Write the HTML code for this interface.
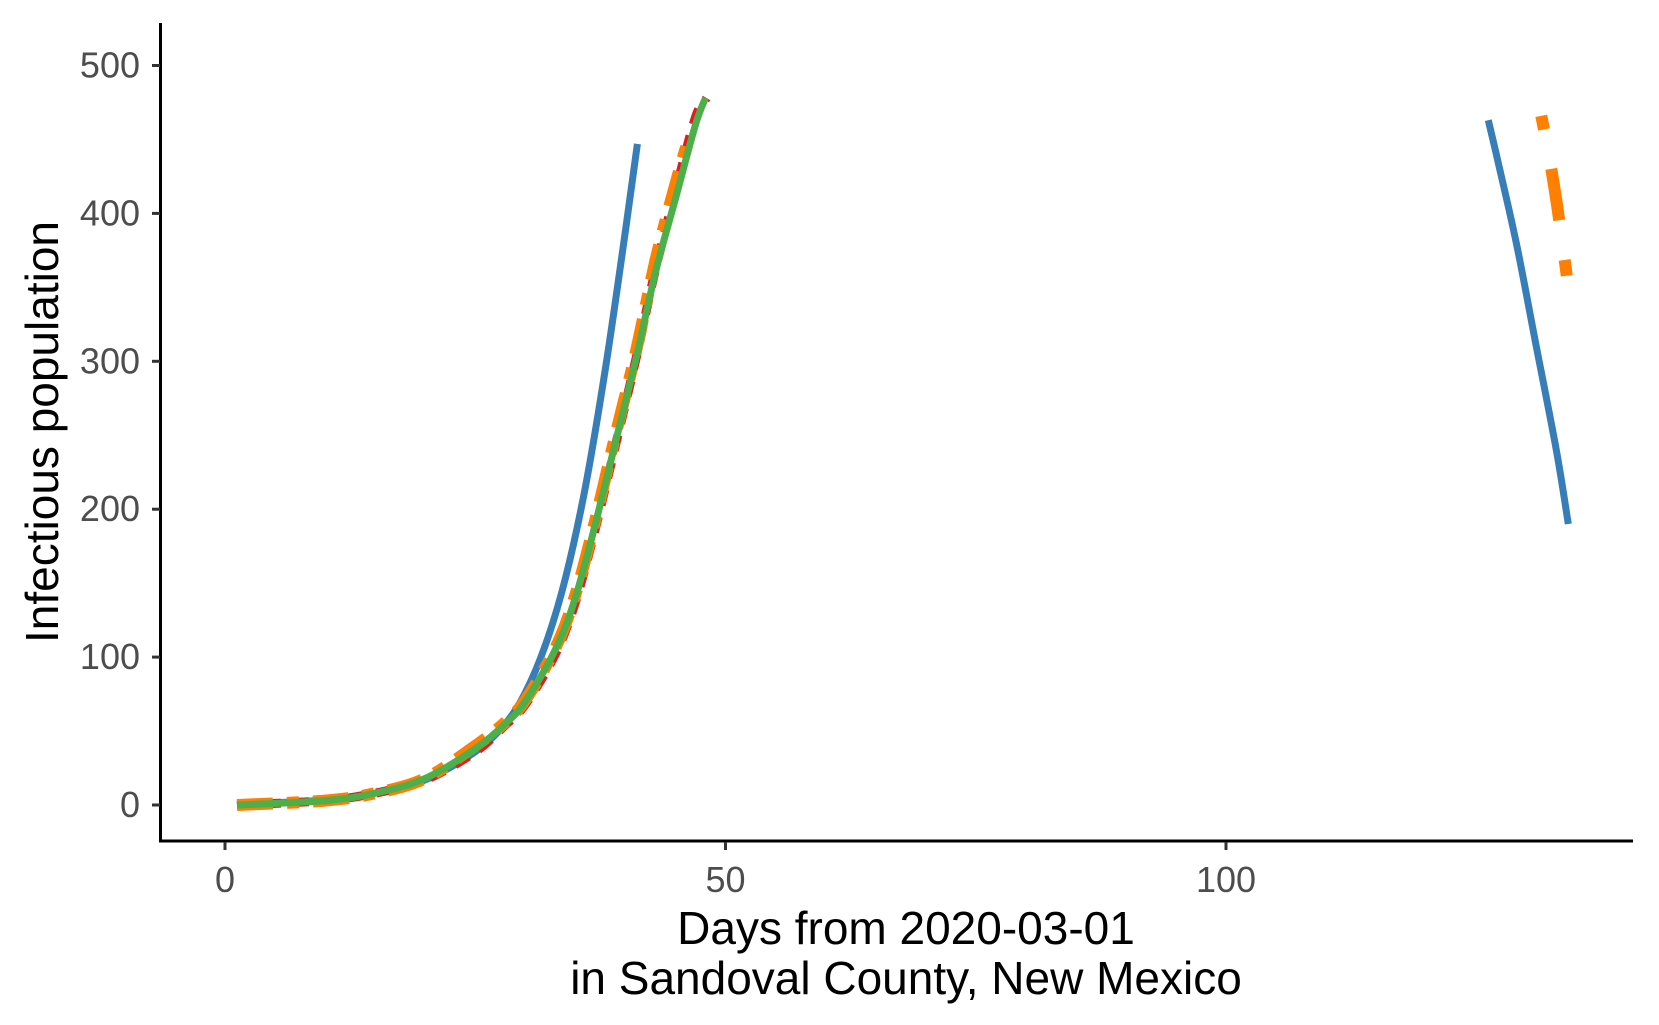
<!DOCTYPE html>
<html><head><meta charset="utf-8"><style>
body{margin:0;background:#fff}
svg{display:block;font-family:"Liberation Sans",sans-serif}
</style></head><body>
<svg id="chart" width="1659" height="1025" viewBox="0 0 1659 1025">
<g id="marks"></g>
<g id="axes"></g>
<text x="906" y="944" text-anchor="middle" font-size="46" fill="#000">Days from 2020-03-01</text>
<text x="906" y="994" text-anchor="middle" font-size="46" fill="#000">in Sandoval County, New Mexico</text>
<text transform="translate(58,432) rotate(-90)" text-anchor="middle" font-size="46" fill="#000">Infectious population</text>
</svg>
<script>
const xTicks=[0,50,100];
const yTicks=[0,100,200,300,400,500];
const blueDays1=[1.2,5,10,15,20,25,28,30,32,34,36,38,40,41.2];
const blueVals1=[0,1.5,3.5,8,17,36,55,76,108,153,215,295,388,447];
const blueDays2=[126.2,127,129,131,133,134.2];
const blueVals2=[463,440,380,310,240,190];
const purpleDays=[1.2,10,15,20,25,28,30,33,35,37,39,41,43,45,47,48];
const purpleVals=[0,3,8,18,38,55,70,105,140,190,245,300,360,410,460,478];
const redDays=[1.2,10,15,20,25,28,30,33,35,37,39,41,43,45,47,48.1];
const redVals=[0,3,8,17,36,54,68,102,137,187,243,300,362,415,465,478];
const orangeDays1=[1.2,10,15,20,25,28,30,33,35,37,39,41,43,45,46.2];
const orangeVals1=[0,3,8,18,40,56,71,106,142,193,250,305,368,420,448];
const orangeDays2=[131.5,132.5,133.3,134.2];
const orangeVals2=[466,430,395,350];
const greenDays=[1.2,10,15,20,25,28,30,33,35,37,39,41,43,45,47,48];
const greenVals=[0,3,8,18,38,55,70,105,140,190,245,300,360,410,460,478];

const NS="http://www.w3.org/2000/svg";
const xS=d=>225+d*10.01;
const yS=v=>805-v*1.479;
const marks=document.getElementById('marks');
const axes=document.getElementById('axes');
function path(days,vals,color,w,dash,name){
  const p=document.createElementNS(NS,'path');
  const pts=days.map((x,i)=>[xS(x),yS(vals[i])]);
  let d='M'+pts[0][0].toFixed(1)+','+pts[0][1].toFixed(1);
  for(let i=0;i<pts.length-1;i++){
    const p0=pts[Math.max(0,i-1)],p1=pts[i],p2=pts[i+1],p3=pts[Math.min(pts.length-1,i+2)];
    const c1=[p1[0]+(p2[0]-p0[0])/6,p1[1]+(p2[1]-p0[1])/6];
    const c2=[p2[0]-(p3[0]-p1[0])/6,p2[1]-(p3[1]-p1[1])/6];
    d+='C'+c1[0].toFixed(1)+','+c1[1].toFixed(1)+' '+c2[0].toFixed(1)+','+c2[1].toFixed(1)+' '+p2[0].toFixed(1)+','+p2[1].toFixed(1);
  }
  p.setAttribute('d',d);
  p.setAttribute('fill','none');
  p.setAttribute('stroke',color);
  p.setAttribute('stroke-width',w);
  if(dash)p.setAttribute('stroke-dasharray',dash);
  
  
  marks.appendChild(p);
}
path(purpleDays,purpleVals,'#984ea3',6,null,'purple-line');
path(blueDays1,blueVals1,'#377eb8',7,null,'blue-line-early');
path(blueDays2,blueVals2,'#377eb8',7,null,'blue-line-late');
path(redDays,redVals,'#e41a1c',9,'16 12','red-dashed-line');
path(orangeDays1,orangeVals1,'#ff7f00',12,'36 14 12 14','orange-dashdot-line-early');
path(orangeDays2,orangeVals2,'#ff7f00',12,'14 40 52 40 16 20','orange-dashdot-line-late');
path(greenDays,greenVals,'#4daf4a',7,null,'green-line');

function el(tag,attrs){const e=document.createElementNS(NS,tag);for(const k in attrs)e.setAttribute(k,attrs[k]);axes.appendChild(e);return e;}
const yl=el('line',{x1:160.5,y1:23,x2:160.5,y2:842,stroke:'#000','stroke-width':3});


const xl=el('line',{x1:159,y1:841,x2:1633,y2:841,stroke:'#000','stroke-width':3});


yTicks.forEach(v=>{
  const t=el('line',{x1:152,x2:160,y1:yS(v),y2:yS(v),stroke:'#333','stroke-width':3});
  
  
  const l=el('text',{x:140,y:yS(v)+12,'text-anchor':'end','font-size':36,fill:'#4d4d4d'});
  l.textContent=v;
  
  
});
xTicks.forEach(v=>{
  const t=el('line',{x1:xS(v),x2:xS(v),y1:842,y2:850,stroke:'#333','stroke-width':3});
  
  
  const l=el('text',{x:xS(v),y:892,'text-anchor':'middle','font-size':36,fill:'#4d4d4d'});
  l.textContent=v;
  
  
});
</script>
</body></html>
